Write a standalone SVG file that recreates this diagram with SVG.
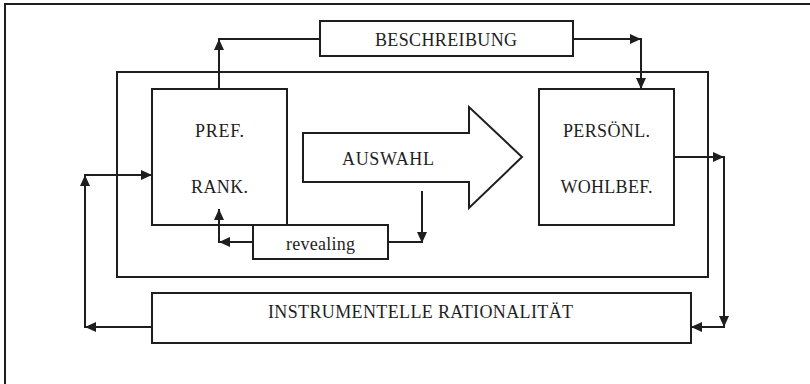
<svg xmlns="http://www.w3.org/2000/svg" width="810" height="384" viewBox="0 0 810 384">
<style>
.b{fill:none;stroke:#1e1e1e;stroke-width:2}
.l{fill:none;stroke:#1e1e1e;stroke-width:2}
.t{font-family:"Liberation Serif","Times New Roman",serif;font-size:18px;fill:#1e1e1e;text-anchor:middle}
</style>
<defs>
<marker id="ah" markerUnits="userSpaceOnUse" markerWidth="12" markerHeight="10" refX="11" refY="5" orient="auto">
<path d="M0,0 L11,5 L0,10 z" fill="#1e1e1e"/>
</marker>
</defs>
<rect width="810" height="384" fill="#fff"/>
<g id="frame">
<path class="l" d="M5,384 V4 H810"/>
</g>
<g id="inner">
<rect class="b" x="117" y="72" width="591" height="205"/>
</g>
<g id="beschreibung">
<rect class="b" x="320" y="21" width="253" height="35"/>
<text class="t" x="446" y="46" textLength="142" lengthAdjust="spacing">BESCHREIBUNG</text>
</g>
<g id="pref">
<rect class="b" x="152" y="89" width="135" height="136"/>
<text class="t" x="219.5" y="137" textLength="49" lengthAdjust="spacing">PREF.</text>
<text class="t" x="219.5" y="193" textLength="57" lengthAdjust="spacing">RANK.</text>
</g>
<g id="auswahl">
<path class="b" d="M303,133 H469 V107 L522,157 L469,208 V182 H303 Z"/>
<text class="t" x="388" y="165" textLength="92" lengthAdjust="spacing">AUSWAHL</text>
</g>
<g id="persoenl">
<rect class="b" x="539" y="89" width="135" height="136"/>
<text class="t" x="606.5" y="137" textLength="87" lengthAdjust="spacing">PERSÖNL.</text>
<text class="t" x="606.5" y="193" textLength="92" lengthAdjust="spacing">WOHLBEF.</text>
</g>
<g id="revealing">
<rect class="b" x="253" y="225" width="135" height="34"/>
<text class="t" x="320.5" y="250" textLength="69" lengthAdjust="spacing">revealing</text>
</g>
<g id="instrumentelle">
<rect class="b" x="152" y="293" width="539" height="50"/>
<text class="t" x="420.5" y="318" textLength="305" lengthAdjust="spacing">INSTRUMENTELLE RATIONALITÄT</text>
</g>
<g id="connectors">
<line class="l" x1="219" y1="89" x2="219" y2="39" marker-end="url(#ah)"/>
<line class="l" x1="218" y1="39" x2="320" y2="39"/>
<line class="l" x1="573" y1="39" x2="641" y2="39" marker-end="url(#ah)"/>
<line class="l" x1="641" y1="38" x2="641" y2="89" marker-end="url(#ah)"/>
<line class="l" x1="674" y1="157" x2="724" y2="157" marker-end="url(#ah)"/>
<line class="l" x1="724" y1="156" x2="724" y2="327" marker-end="url(#ah)"/>
<line class="l" x1="725" y1="327" x2="691" y2="327" marker-end="url(#ah)"/>
<line class="l" x1="152" y1="327" x2="85" y2="327" marker-end="url(#ah)"/>
<line class="l" x1="85" y1="328" x2="85" y2="175" marker-end="url(#ah)"/>
<line class="l" x1="84" y1="175" x2="152" y2="175" marker-end="url(#ah)"/>
<line class="l" x1="253" y1="242" x2="219" y2="242" marker-end="url(#ah)"/>
<line class="l" x1="219" y1="243" x2="219" y2="209" marker-end="url(#ah)"/>
<line class="l" x1="388" y1="242" x2="423" y2="242"/>
<line class="l" x1="422" y1="191" x2="422" y2="243" marker-end="url(#ah)"/>
</g>
</svg>
